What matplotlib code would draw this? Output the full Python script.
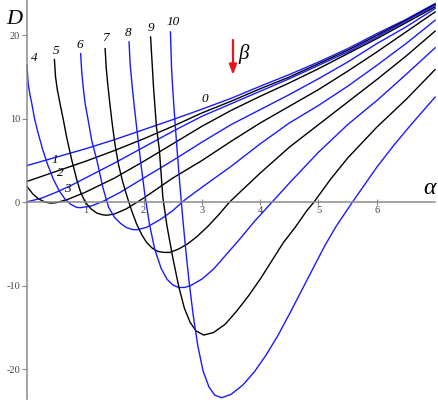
import matplotlib
matplotlib.use("Agg")
import matplotlib.pyplot as plt

# ---- data ----
a0 = [0, 0.5, 1, 1.5, 2, 2.5, 3, 3.5, 4, 4.5, 5, 5.5, 6, 6.5, 7]
d0 = [4.4, 5.4, 6.4, 7.5, 8.7, 9.9, 11.15, 12.45, 13.9, 15.3, 16.8, 18.4, 20.2, 21.9, 23.8]

a1 = [0, 0.5, 1, 1.5, 2, 2.5, 3, 3.5, 4, 4.5, 5, 5.5, 6, 6.5, 7]
d1 = [2.5, 3.7, 4.9, 6.2, 7.6, 9.1, 10.7, 12.1, 13.6, 15.0, 16.6, 18.2, 20.0, 21.8, 23.7]

a2 = [0, 0.25, 0.5, 0.75, 1, 1.5, 2, 2.5, 3, 3.5, 4, 4.5, 5, 5.5, 6, 6.5, 7]
d2 = [0.05, 0.5, 1.2, 2.0, 2.9, 4.7, 6.6, 8.5, 10.3, 11.8, 13.3, 14.8, 16.4, 18.0, 19.8, 21.7, 23.6]

a3 = [0, 0.1, 0.2, 0.3, 0.4, 0.5, 0.7, 1, 1.5, 2, 2.5, 3, 3.5, 4, 4.5, 5, 5.5, 6, 6.5, 7]
d3 = [1.9, 1.0, 0.4, 0.05, -0.1, -0.05, 0.35, 1.2, 2.9, 4.9, 7.0, 9.1, 11.0, 12.7, 14.3, 16.0, 17.8, 19.6, 21.5, 23.4]

a4 = [0, 0.02, 0.05, 0.08, 0.13, 0.19, 0.27, 0.35, 0.45, 0.55, 0.65, 0.75, 0.85, 0.91,
      1.1, 1.3, 1.6, 2, 2.5, 3, 3.5, 4, 4.5, 5, 5.5, 6, 6.5, 7]
d4 = [16.4, 14.2, 12.9, 11.9, 10.0, 8.3, 6.3, 4.6, 2.8, 1.4, 0.4, -0.25, -0.6, -0.65,
      -0.45, 0.1, 1.2, 2.9, 5.0, 7.2, 9.3, 11.1, 12.9, 14.8, 16.8, 19.0, 21.0, 23.2]

a5 = [0.47, 0.49, 0.52, 0.57, 0.62, 0.68, 0.77, 0.85, 0.92, 1.0, 1.1, 1.2, 1.3, 1.37,
      1.5, 1.7, 2.0, 2.5, 3.0, 3.5, 4.0, 4.5, 5, 5.5, 6, 6.5, 7]
d5 = [17.1, 15.0, 13.5, 11.7, 10.0, 7.8, 5.0, 2.8, 1.2, 0.0, -0.8, -1.3, -1.5, -1.55,
      -1.4, -0.8, 0.5, 2.9, 5.0, 7.3, 9.5, 11.5, 13.5, 15.7, 18.0, 20.4, 22.8]

a6 = [0.92, 0.94, 0.97, 1.0, 1.05, 1.11, 1.2, 1.3, 1.4, 1.5, 1.6, 1.7, 1.8, 1.88,
      2.05, 2.3, 2.5, 2.7, 3.0, 3.5, 4.0, 4.5, 5.0, 5.5, 6.0, 6.5, 7]
d6 = [17.8, 15.5, 13.4, 11.7, 9.8, 7.4, 5.0, 1.8, -0.6, -1.8, -2.5, -3.0, -3.25, -3.3,
      -3.0, -2.0, -1.0, 0.25, 1.8, 4.3, 7.0, 9.5, 11.6, 13.9, 16.4, 19.0, 21.8]

a7 = [1.34, 1.36, 1.39, 1.42, 1.46, 1.51, 1.57, 1.64, 1.72, 1.8, 1.88, 1.97, 2.05, 2.15, 2.25, 2.35, 2.45,
      2.6, 2.75, 2.9, 3.1, 3.3, 3.47, 3.65, 4, 4.5, 5, 5.5, 6, 6.5, 7]
d7 = [18.4, 16.0, 13.8, 11.9, 9.5, 6.9, 4.5, 2.5, 0.6, -1.1, -2.6, -3.9, -4.8, -5.5, -5.9, -6.0, -6.0,
      -5.6, -5.0, -4.2, -2.9, -1.4, 0, 1.2, 3.5, 6.6, 9.3, 12.0, 14.7, 17.5, 20.5]

a8 = [1.75, 1.77, 1.8, 1.84, 1.89, 1.95, 2.02, 2.1, 2.19, 2.3, 2.4, 2.5, 2.6, 2.7, 2.8,
      3.0, 3.2, 3.4, 3.65, 3.9, 4.2, 4.5, 5, 5.5, 6.02, 6.5, 7]
d8 = [19.2, 16.5, 14.2, 11.5, 8.4, 4.8, 1.0, -2.6, -5.6, -7.9, -9.2, -9.9, -10.2, -10.2, -10.0,
      -9.2, -8.0, -6.4, -4.4, -2.3, 0, 2.3, 6.0, 9.3, 12.3, 15.3, 18.5]

a9 = [2.12, 2.17, 2.22, 2.27, 2.33, 2.40, 2.5, 2.6, 2.7, 2.8, 2.9, 3.03, 3.2, 3.4, 3.6, 3.8,
      4.0, 4.2, 4.4, 4.6, 4.8, 4.92, 5.2, 5.5, 6, 6.5, 7]
d9 = [19.8, 13.8, 9.05, 6.3, 0.6, -2.8, -6.6, -10.0, -12.7, -14.4, -15.4, -15.9, -15.6, -14.6, -13.0, -11.2,
      -9.2, -7.0, -4.8, -3.0, -1.0, 0, 2.7, 5.3, 9.0, 12.3, 15.9]

a10 = [2.46, 2.48, 2.50, 2.54, 2.58, 2.62, 2.67, 2.72, 2.78, 2.85, 2.93, 3.02, 3.12, 3.22, 3.34,
       3.5, 3.7, 3.9, 4.1, 4.3, 4.5, 4.7, 4.9, 5.1, 5.3, 5.58, 5.8, 6.0, 6.3, 6.6, 7.0]
d10 = [20.4, 16.0, 13.5, 9.5, 5.8, 2.3, -1.8, -5.5, -9.5, -13.5, -17.2, -20.2, -22.1, -23.1, -23.4,
       -23.0, -21.9, -20.3, -18.3, -16.0, -13.4, -10.7, -8.0, -5.3, -2.9, 0, 2.2, 4.2, 6.9, 9.4, 12.6]

curves_a = [a0, a1, a2, a3, a4, a5, a6, a7, a8, a9, a10]
curves_d = [d0, d1, d2, d3, d4, d5, d6, d7, d8, d9, d10]
curve_names = ["0", "1", "2", "3", "4", "5", "6", "7", "8", "9", "10"]

xticks = [1, 2, 3, 4, 5, 6]
yticks = [-20, -10, 0, 10, 20]

# ---- figure ----
W, H = 438, 400
fig = plt.figure(figsize=(W / 100, H / 100), dpi=100)

x0px, sx = 27.0, 58.3
y0px, sy = 202.3, 8.35
xmin, xmax = 0.0, 7.0
ymin, ymax = -23.5, 24.2
left = (x0px + sx * xmin) / W
width = sx * (xmax - xmin) / W
bottom = (H - (y0px - sy * ymin)) / H
height = sy * (ymax - ymin) / H
ax = fig.add_axes([left, bottom, width, height])
ax.set_xlim(xmin, xmax)
ax.set_ylim(ymin, ymax)
ax.patch.set_alpha(0)

blue = "#1a1aff"
for i, (a, d) in enumerate(zip(curves_a, curves_d)):
    col = blue if i % 2 == 0 else "black"
    ax.plot(a, d, color=col, lw=1.0, solid_joinstyle="round", clip_on=False)

axis_col = "#8a8a8a"
for s in ["top", "right"]:
    ax.spines[s].set_visible(False)
ax.spines["left"].set_position(("data", 0))
ax.spines["bottom"].set_position(("data", 0))
for s in ["left", "bottom"]:
    ax.spines[s].set_color(axis_col)
    ax.spines[s].set_linewidth(1.1)

serif = ["Liberation Serif", "DejaVu Serif"]
ax.set_xticks(xticks)
ax.set_xticklabels([str(t) for t in xticks], family=serif, fontsize=7.5, color="#444444")
ax.set_yticks(yticks)
ax.set_yticklabels([str(t) for t in yticks], family=serif, fontsize=7.5, color="#444444")
ax.tick_params(axis="x", direction="inout", length=4, width=0.8, color=axis_col, pad=1)
ax.tick_params(axis="y", direction="out", length=3.5, width=0.8, color=axis_col, pad=1.5)


def p2d(px, py):
    return (px - x0px) / sx, (y0px - py) / sy


def label(px, py, s, size=9.5, **kw):
    x, y = p2d(px, py)
    ax.text(x, y, s, family=serif, style="italic", fontsize=size,
            ha="center", va="center", clip_on=False, **kw)

label_px = [(205, 99), (55, 160), (60, 173), (67, 189), (34, 58), (56, 51),
            (80, 45), (106, 38), (128, 33), (151, 28), (173, 22)]
for name, (px, py) in zip(curve_names, label_px):
    label(px, py, name)

label(14, 20, "D", size=16)
label(429, 189, "α", size=17)
label(244, 54, "β", size=15)

xa, ya = p2d(233, 40)
xb, yb = p2d(233, 75)
ax.annotate("", xy=(xb, yb), xytext=(xa, ya),
            arrowprops=dict(arrowstyle="-|>,head_length=0.6,head_width=0.22",
                            color="#e8141c", lw=1.6, shrinkA=0, shrinkB=0),
            annotation_clip=False)

fig.savefig("out.png", dpi=100)
